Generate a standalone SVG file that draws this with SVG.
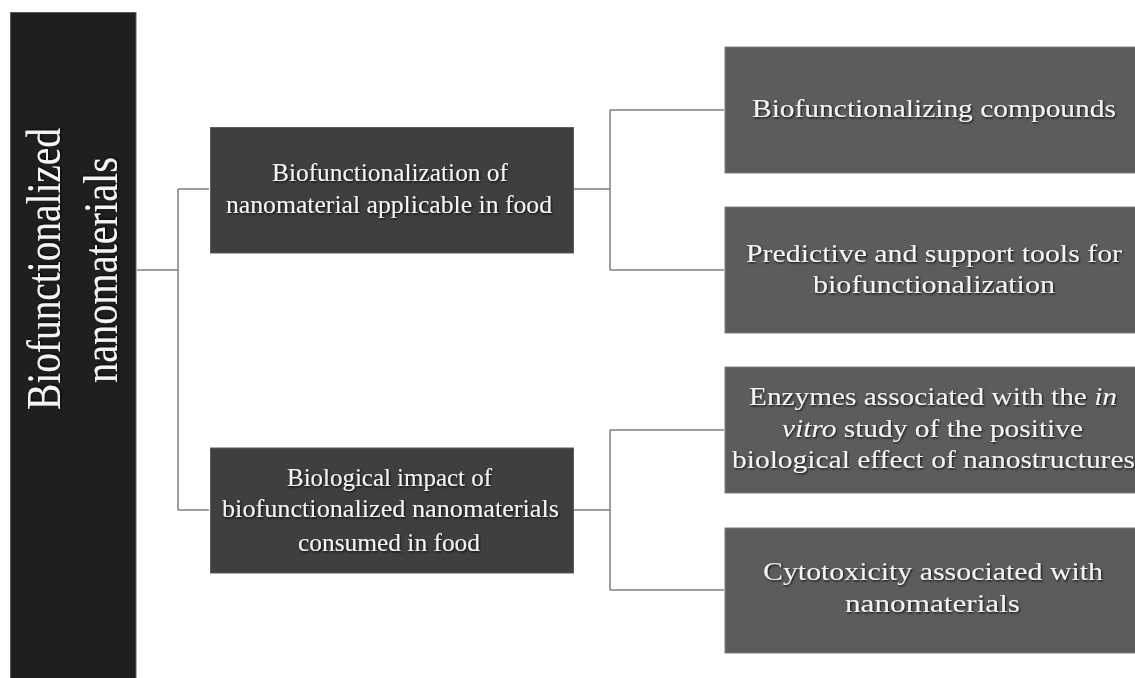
<svg xmlns="http://www.w3.org/2000/svg" width="1135" height="678" viewBox="0 0 1135 678">
<defs>
<filter id="sh" x="-10%" y="-30%" width="120%" height="160%">
<feDropShadow dx="1" dy="1.2" stdDeviation="0.8" flood-color="#000" flood-opacity="0.85"/>
</filter>
<style>
.t{font-family:"Liberation Serif","Times New Roman",serif;fill:#f4f4f4;text-anchor:middle;filter:url(#sh)}
.m{font-size:25px}
.r{font-size:48px}
.b0{fill:#1f1f1f;stroke:#5a5a5a;stroke-width:1}
.b1{fill:#3f3f3f;stroke:#5e5e5e;stroke-width:1}
.b2{fill:#5c5c5c;stroke:#7c7c7c;stroke-width:1}
.c{fill:none;stroke:#7f7f7f;stroke-width:1.5}
</style>
</defs>
<rect width="1135" height="678" fill="#fff"/>
<g id="connectors">
<path class="c" d="M137,270 H178 M178,189 V510 M178,189 H209 M178,510 H209"/>
<path class="c" d="M574,189 H610 M610,110 V270 M610,110 H724 M610,270 H724"/>
<path class="c" d="M574,510 H610 M610,430 V590 M610,430 H724 M610,590 H724"/>
</g>
<g id="root">
<rect class="b0" x="10.5" y="12.5" width="125.5" height="670"/>
<text class="t r" transform="translate(60,269) rotate(-90)" textLength="282" lengthAdjust="spacingAndGlyphs">Biofunctionalized</text>
<text class="t r" transform="translate(117,270) rotate(-90)" textLength="226" lengthAdjust="spacingAndGlyphs">nanomaterials</text>
</g>
<g id="mid1">
<rect class="b1" x="210.5" y="127.5" width="363" height="125.5"/>
<text class="t m" x="390" y="181" textLength="236" lengthAdjust="spacingAndGlyphs">Biofunctionalization of</text>
<text class="t m" x="389" y="213" textLength="326" lengthAdjust="spacingAndGlyphs">nanomaterial applicable in food</text>
</g>
<g id="mid2">
<rect class="b1" x="210.5" y="448" width="363" height="125"/>
<text class="t m" x="389.5" y="485.5" textLength="205" lengthAdjust="spacingAndGlyphs">Biological impact of</text>
<text class="t m" x="390.5" y="517" textLength="337" lengthAdjust="spacingAndGlyphs">biofunctionalized nanomaterials</text>
<text class="t m" x="389" y="550.5" textLength="182" lengthAdjust="spacingAndGlyphs">consumed in food</text>
</g>
<g id="right1">
<rect class="b2" x="725" y="47" width="412" height="126"/>
<text class="t m" x="934" y="117" textLength="364" lengthAdjust="spacingAndGlyphs">Biofunctionalizing compounds</text>
</g>
<g id="right2">
<rect class="b2" x="725" y="207" width="412" height="126"/>
<text class="t m" x="934" y="262" textLength="376" lengthAdjust="spacingAndGlyphs">Predictive and support tools for</text>
<text class="t m" x="934" y="293" textLength="242" lengthAdjust="spacingAndGlyphs">biofunctionalization</text>
</g>
<g id="right3">
<rect class="b2" x="725" y="367" width="412" height="126"/>
<text class="t m" x="933" y="405" textLength="368" lengthAdjust="spacingAndGlyphs">Enzymes associated with the <tspan font-style="italic">in</tspan></text>
<text class="t m" x="932.5" y="437" textLength="301" lengthAdjust="spacingAndGlyphs"><tspan font-style="italic">vitro</tspan>  study of the positive</text>
<text class="t m" x="933.5" y="468" textLength="403" lengthAdjust="spacingAndGlyphs">biological effect of nanostructures</text>
</g>
<g id="right4">
<rect class="b2" x="725" y="528" width="412" height="125"/>
<text class="t m" x="933" y="580" textLength="340" lengthAdjust="spacingAndGlyphs">Cytotoxicity associated with</text>
<text class="t m" x="932.5" y="612" textLength="175" lengthAdjust="spacingAndGlyphs">nanomaterials</text>
</g>
</svg>
